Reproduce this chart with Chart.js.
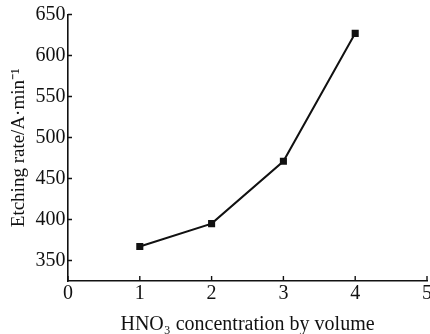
<!DOCTYPE html>
<html>
<head>
<meta charset="utf-8">
<script src="https://cdn.jsdelivr.net/npm/chart.js@4.4.1/dist/chart.umd.min.js"></script>
<style>
  html, body { margin: 0; padding: 0; background: #fff; overflow: hidden; }
  /* a bit larger than the window so the "5" label is cut at the edge like in the figure */
  #wrap { width: 433px; height: 335px; }
  canvas { display: block; }
</style>
</head>
<body>
<div id="wrap"><canvas id="myChart" width="433" height="335"></canvas></div>
<script>
var concentration = [1, 2, 3, 4];
var etchRate = [367, 395, 471, 627];
var xTicks = [0, 1, 2, 3, 4, 5];
var yTicks = [350, 400, 450, 500, 550, 600, 650];
var xTitle = 'HNO\u2083 concentration by volume';
var yTitle = 'Etching rate/A\u00b7min\u207b\u00b9';

var points = [];
for (var i = 0; i < concentration.length; i++) {
  points.push({x: concentration[i], y: etchRate[i]});
}

// ticks pointing into the plot, like the original figure
var innerTicks = {
  id: 'innerTicks',
  afterDraw: function(chart) {
    var ctx = chart.ctx;
    var xs = chart.scales.x;
    var ys = chart.scales.y;
    ctx.save();
    ctx.strokeStyle = '#111';
    ctx.lineWidth = 1.4;
    ctx.beginPath();
    xs.ticks.forEach(function(t) {
      var px = xs.getPixelForValue(t.value);
      ctx.moveTo(px, ys.bottom);
      ctx.lineTo(px, ys.bottom - 5);
    });
    ys.ticks.forEach(function(t) {
      var py = ys.getPixelForValue(t.value);
      ctx.moveTo(xs.left, py);
      ctx.lineTo(xs.left + 4, py);
    });
    ctx.stroke();
    ctx.restore();
  }
};

var serif = '"Liberation Serif", "Times New Roman", serif';
var tickFont = {family: serif, size: 20};
var xTitleFont = {family: serif, size: 20, lineHeight: 1};
var yTitleFont = {family: serif, size: 19, lineHeight: 1};

var ctx = document.getElementById('myChart').getContext('2d');
var myChart = new Chart(ctx, {
  type: 'line',
  data: {
    datasets: [{
      data: points,
      borderColor: '#111',
      borderWidth: 2,
      backgroundColor: '#111',
      pointStyle: 'rect',
      pointRadius: 5,
      pointBorderWidth: 0,
      tension: 0,
      fill: false
    }]
  },
  options: {
    responsive: false,
    devicePixelRatio: 1,
    animation: false,
    layout: {padding: {top: 4, right: 0, left: 2, bottom: 0}},
    plugins: {legend: {display: false}, tooltip: {enabled: false}},
    scales: {
      x: {
        type: 'linear',
        min: 0,
        max: 5,
        afterBuildTicks: function(scale) {
          scale.ticks = xTicks.map(function(v) { return {value: v}; });
        },
        grid: {display: false, drawTicks: false},
        border: {display: true, color: '#111', width: 1.6},
        ticks: {color: '#111', font: tickFont, padding: 1, maxRotation: 0},
        title: {display: true, text: xTitle, color: '#111', font: xTitleFont, padding: {top: 8, bottom: 0}}
      },
      y: {
        type: 'linear',
        min: 325,
        max: 650,
        afterBuildTicks: function(scale) {
          scale.ticks = yTicks.map(function(v) { return {value: v}; });
        },
        grid: {display: false, drawTicks: false},
        border: {display: true, color: '#111', width: 1.6},
        ticks: {color: '#111', font: tickFont, padding: 2.5},
        title: {display: true, text: yTitle, color: '#111', font: yTitleFont, padding: {top: 8, bottom: 4}}
      }
    }
  },
  plugins: [innerTicks]
});
</script>
</body>
</html>
